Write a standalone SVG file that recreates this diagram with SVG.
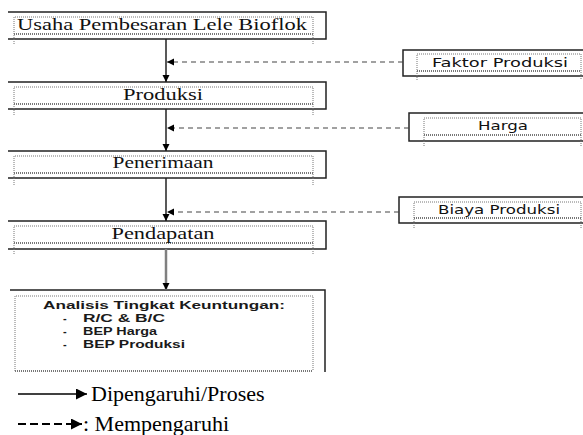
<svg xmlns="http://www.w3.org/2000/svg" width="583" height="435" viewBox="0 0 583 435">
<style>
.solid{fill:none;stroke:#222;stroke-width:1.5}
.dot{fill:none;stroke:#777;stroke-width:1;stroke-dasharray:1 1}
.dotb{fill:none;stroke:#777;stroke-width:2;stroke-dasharray:1 1}
.main{font-family:"Liberation Serif","Times New Roman",serif;font-size:17px;fill:#111;text-anchor:middle}
.side{font-family:"DejaVu Sans",Verdana,sans-serif;font-size:12px;fill:#111;text-anchor:middle}
.ana{font-family:"Liberation Sans",Arial,sans-serif;font-size:11px;font-weight:bold;fill:#1a1a1a}
.leg{font-family:"Liberation Serif","Times New Roman",serif;font-size:22px;fill:#000}
.conn{fill:none;stroke:#222;stroke-width:1.5}
.dash{fill:none;stroke:#444;stroke-width:1.2;stroke-dasharray:5 4}
</style>
<defs>
<marker id="ah" viewBox="0 0 10 10" refX="10" refY="5" markerWidth="7" markerHeight="9" markerUnits="userSpaceOnUse" orient="auto">
<path d="M0,0 L10,5 L0,10 z" fill="#000"/>
</marker>
<marker id="ahL" viewBox="0 0 10 10" refX="10" refY="5" markerWidth="13" markerHeight="11" markerUnits="userSpaceOnUse" orient="auto">
<path d="M0,0 L10,5 L0,10 z" fill="#000"/>
</marker>
</defs>

<g id="usaha">
<path class="solid" d="M8,12 H326 V39 H8"/>
<path class="dot" d="M14,44 V17 H313 V44"/>
<path class="dotb" d="M14,34 H313"/>
<text class="main" x="162" y="30" textLength="290" lengthAdjust="spacingAndGlyphs">Usaha Pembesaran Lele Bioflok</text>
</g>

<g id="produksi">
<path class="solid" d="M8,82 H326 V109 H8"/>
<path class="dot" d="M14,115 V87 H313 V115"/>
<path class="dotb" d="M14,104 H313"/>
<text class="main" x="163" y="100" textLength="80" lengthAdjust="spacingAndGlyphs">Produksi</text>
</g>

<g id="penerimaan">
<path class="solid" d="M8,151 H326 V178 H8"/>
<path class="dot" d="M14,185 V156 H313 V185"/>
<path class="dotb" d="M14,173 H313"/>
<text class="main" x="163" y="168" textLength="101" lengthAdjust="spacingAndGlyphs">Penerimaan</text>
</g>

<g id="pendapatan">
<path class="solid" d="M8,221 H326 V249 H8"/>
<path class="dot" d="M14,254 V226 H313 V254"/>
<path class="dotb" d="M14,243 H313"/>
<text class="main" x="163" y="239" textLength="103" lengthAdjust="spacingAndGlyphs">Pendapatan</text>
</g>

<g id="analisis">
<path class="solid" d="M10,290 H325 V372"/>
<path class="dot" d="M15,371 V296 H313 V371"/>
<path class="dotb" d="M15,371 H313"/>
<text class="ana" x="43" y="309" textLength="242" lengthAdjust="spacingAndGlyphs">Analisis Tingkat Keuntungan:</text>
<text class="ana" x="63" y="322">-</text>
<text class="ana" x="83" y="322" textLength="82" lengthAdjust="spacingAndGlyphs">R/C &amp; B/C</text>
<text class="ana" x="63" y="335">-</text>
<text class="ana" x="83" y="335" textLength="74" lengthAdjust="spacingAndGlyphs">BEP Harga</text>
<text class="ana" x="63" y="348">-</text>
<text class="ana" x="83" y="348" textLength="102" lengthAdjust="spacingAndGlyphs">BEP Produksi</text>
</g>

<g id="faktor">
<path class="solid" d="M583,50 H403 V76 H583"/>
<path class="dot" d="M417,80 V54 H581 V80"/>
<path class="dotb" d="M417,71 H581"/>
<text class="side" x="500" y="67" textLength="136" lengthAdjust="spacingAndGlyphs">Faktor  Produksi</text>
</g>

<g id="harga">
<path class="solid" d="M583,113 H409 V141 H583"/>
<path class="dot" d="M424,146 V118 H581 V146"/>
<path class="dotb" d="M424,135 H581"/>
<text class="side" x="503" y="130" textLength="50" lengthAdjust="spacingAndGlyphs">Harga</text>
</g>

<g id="biaya">
<path class="solid" d="M583,197 H399 V223 H583"/>
<path class="dot" d="M414,228 V202 H581 V228"/>
<path class="dotb" d="M414,218 H581"/>
<text class="side" x="499" y="214" textLength="122" lengthAdjust="spacingAndGlyphs">Biaya Produksi</text>
</g>

<g id="connectors">
<line class="conn" x1="166" y1="39" x2="166" y2="82" marker-end="url(#ah)"/>
<line class="conn" x1="166" y1="109" x2="166" y2="151" marker-end="url(#ah)"/>
<line class="conn" x1="166" y1="178" x2="166" y2="221" marker-end="url(#ah)"/>
<line x1="166" y1="249" x2="166" y2="290" stroke="#808080" stroke-width="2.5" marker-end="url(#ah)"/>
<line class="dash" x1="403" y1="62" x2="167" y2="62" marker-end="url(#ah)"/>
<line class="dash" x1="409" y1="128" x2="167" y2="128" marker-end="url(#ah)"/>
<line class="dash" x1="399" y1="212" x2="167" y2="212" marker-end="url(#ah)"/>
</g>

<g id="legend">
<line x1="18" y1="394" x2="87" y2="394" stroke="#000" stroke-width="1.5" marker-end="url(#ahL)"/>
<text class="leg" x="91" y="401">Dipengaruhi/Proses</text>
<line x1="18" y1="424" x2="82" y2="424" stroke="#000" stroke-width="2" stroke-dasharray="8 4" marker-end="url(#ahL)"/>
<text class="leg" x="83" y="431">:  Mempengaruhi</text>
</g>
</svg>
